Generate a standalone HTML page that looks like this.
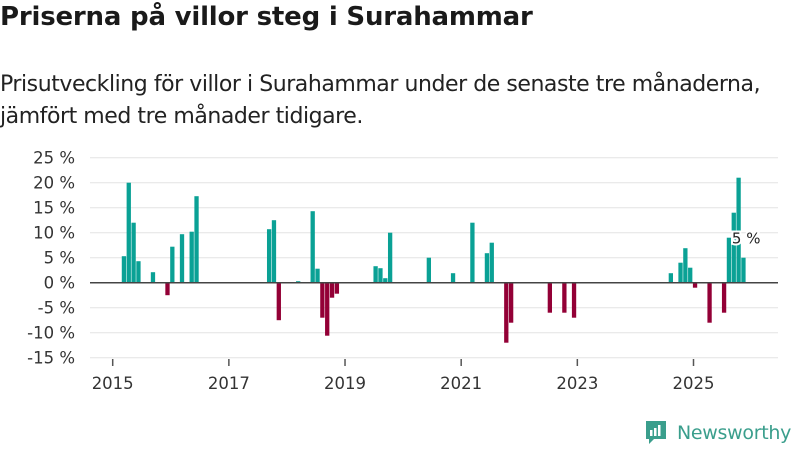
<!DOCTYPE html>
<html><head><meta charset="utf-8"><style>
body{margin:0;width:800px;height:450px;background:#fff;font-family:"Liberation Sans","DejaVu Sans",sans-serif;overflow:hidden;position:relative}
h1{position:absolute;left:0;top:2px;margin:0;font-size:26px;font-weight:bold;color:#1a1a1a;font-family:"DejaVu Sans","Liberation Sans",sans-serif;letter-spacing:-0.2px}
.sub{position:absolute;left:0;top:69px;margin:0;font-size:22px;line-height:32px;color:#222;font-family:"DejaVu Sans","Liberation Sans",sans-serif;letter-spacing:-0.45px}
svg{position:absolute;left:0;top:0}
</style></head><body>
<h1>Priserna på villor steg i Surahammar</h1>
<p class="sub">Prisutveckling för villor i Surahammar under de senaste tre månaderna,<br>jämfört med tre månader tidigare.</p>
<svg id="chart" width="800" height="450"></svg>
<script>
const months=[2,3,4,5,8,11,12,14,16,17,32,33,34,38,41,42,43,44,45,46,54,55,56,57,65,70,74,77,78,81,82,90,93,95,115,117,118,119,120,123,126,127,128,129,130];
const values=[5.3,20,12,4.3,2.1,-2.5,7.2,9.7,10.2,17.3,10.7,12.5,-7.5,0.3,14.3,2.8,-7,-10.6,-3,-2.2,3.3,2.9,0.9,10,5,1.9,12,5.9,8,-12,-8,-6,-6,-7,1.9,4,6.9,3,-1,-8,-6,9,14,21,5];
const yTicks=[25,20,15,10,5,0,-5,-10,-15];
const xYears=[2015,2017,2019,2021,2023,2025];
const NS="http://www.w3.org/2000/svg";
const svg=document.getElementById('chart');
const y=v=>282.7-v*5;
const x=m=>112.7+m*4.84;
function mk(t,a){const e=document.createElementNS(NS,t);for(const k in a)e.setAttribute(k,a[k]);svg.appendChild(e);return e;}
yTicks.forEach(t=>{
 const g=mk('line',{x1:90,x2:778,y1:y(t),y2:y(t),stroke:'#e3e3e3','stroke-width':1});
 
 
 const l=mk('text',{x:75,y:y(t)+6,'text-anchor':'end','font-size':16.5,fill:'#333','font-family':'DejaVu Sans, Liberation Sans, sans-serif'});
 l.textContent=t+' %';
 
 
});
xYears.forEach(yr=>{
 const xx=x((yr-2015)*12);
 const t=mk('line',{x1:xx,x2:xx,y1:359,y2:366,stroke:'#555','stroke-width':1.5});
 
 
 const l=mk('text',{x:xx,y:389,'text-anchor':'middle','font-size':16.5,fill:'#333','font-family':'DejaVu Sans, Liberation Sans, sans-serif'});
 l.textContent=yr;
 
 
});
months.forEach((m,i)=>{
 const v=values[i];
 const r=mk('rect',{x:x(m)-0.6,width:4.3,y:Math.min(y(v),y(0)),height:Math.abs(y(v)-y(0)),fill:v>=0?'#0aa195':'#930036'});
 
 
});
const z=mk('line',{x1:90,x2:778,y1:y(0),y2:y(0),stroke:'#444','stroke-width':1.5});


const last=values[values.length-1];
const lbl=mk('text',{x:x(months[months.length-1])-10,y:y(9)+6,'font-size':15,fill:'#222',stroke:'#fff','stroke-width':4,'paint-order':'stroke','font-family':'DejaVu Sans, Liberation Sans, sans-serif'});
lbl.textContent=last+' %';


</script>
<div style="position:absolute;left:645px;top:420px;display:flex;align-items:center">
 <svg width="22" height="26" viewBox="0 0 22 26" style="position:static"><path d="M1 1h20v18h-12l-5 5v-5h-3z" fill="#3a9e8c"/><rect x="5" y="10" width="2.5" height="6" fill="#fff"/><rect x="9" y="8" width="2.5" height="8" fill="#fff"/><rect x="13" y="5" width="2.5" height="11" fill="#fff"/></svg>
 <span style="margin-left:10px;font-size:19px;letter-spacing:-0.3px;color:#3a9e8c;font-family:'DejaVu Sans','Liberation Sans',sans-serif">Newsworthy</span>
</div>
</body></html>
